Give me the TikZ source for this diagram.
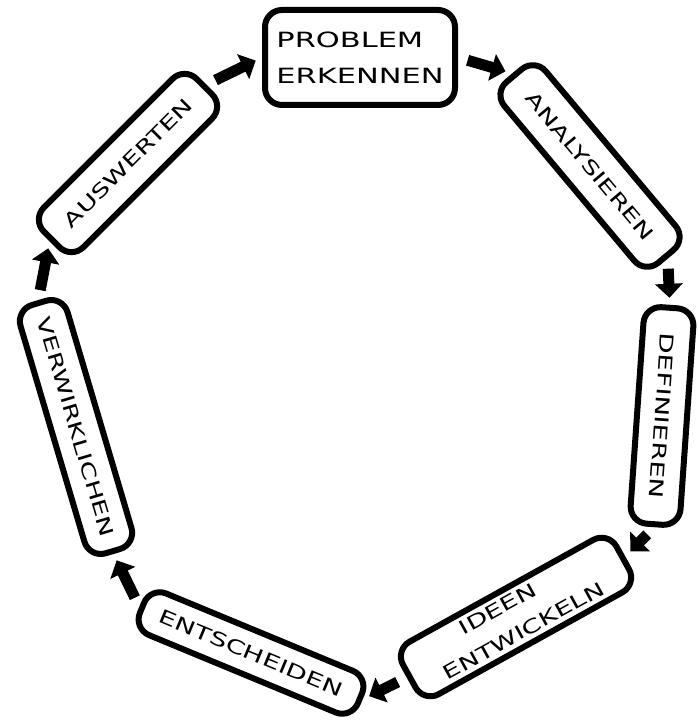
\documentclass[tikz,border=0pt]{standalone}
\usepackage{fontspec}
\usepackage{graphicx}
\newfontfamily\handfont{DejaVu Sans}
\usetikzlibrary{arrows.meta}
\newcommand{\hw}[1]{\scalebox{1.45}[1]{#1}}
\begin{document}
\begin{tikzpicture}[x=1pt,y=1pt,
  stage/.style={draw=black, line width=6pt, rounded corners=17pt, inner sep=0pt,
    font=\handfont\fontsize{19}{34}\selectfont},
  flow/.style={line width=11pt, -{Triangle[length=14pt,width=27pt]},
    shorten <=10pt, shorten >=7pt}
]
\useasboundingbox[fill=white] (0,0) rectangle (698,722);
\node[stage, minimum width=190pt, minimum height=95pt, align=left,
  font=\handfont\fontsize{21}{36}\selectfont] (p) at (360,664.5)
  {\hw{PROBLEM}\\\hw{ERKENNEN}};
\node[stage, rotate=-50, minimum width=236pt, minimum height=54pt] (a) at (590,556) {\hw{ANALYSIEREN}};
\node[stage, rotate=-94, minimum width=217pt, minimum height=50pt] (d) at (662,306) {\hw{DEFINIEREN}};
\node[stage, rotate=29, minimum width=244pt, minimum height=60pt, align=left,
  font=\handfont\fontsize{19}{32}\selectfont] (i) at (516,105)
  {\hspace*{36pt}\hw{IDEEN}\\\hw{ENTWICKELN}};
\node[stage, rotate=-22.5, minimum width=236pt, minimum height=45pt] (e) at (251,69) {\hw{ENTSCHEIDEN}};
\node[stage, rotate=-73.5, minimum width=259pt, minimum height=49pt] (v) at (76,295) {\hw{VERWIRKLICHEN}};
\node[stage, rotate=45, minimum width=216pt, minimum height=56pt] (w) at (128,559) {\hw{AUSWERTEN}};
\draw[flow] (p.east) -- (a.west);
\draw[flow] (a.east) -- (d.west);
\draw[flow] (d.east) -- (i.east);
\draw[flow] (i.west) -- (e.east);
\draw[flow] (e.west) -- (v.east);
\draw[flow] (v.west) -- (w.west);
\draw[flow] (w.east) -- (p.west);
\end{tikzpicture}
\end{document}
